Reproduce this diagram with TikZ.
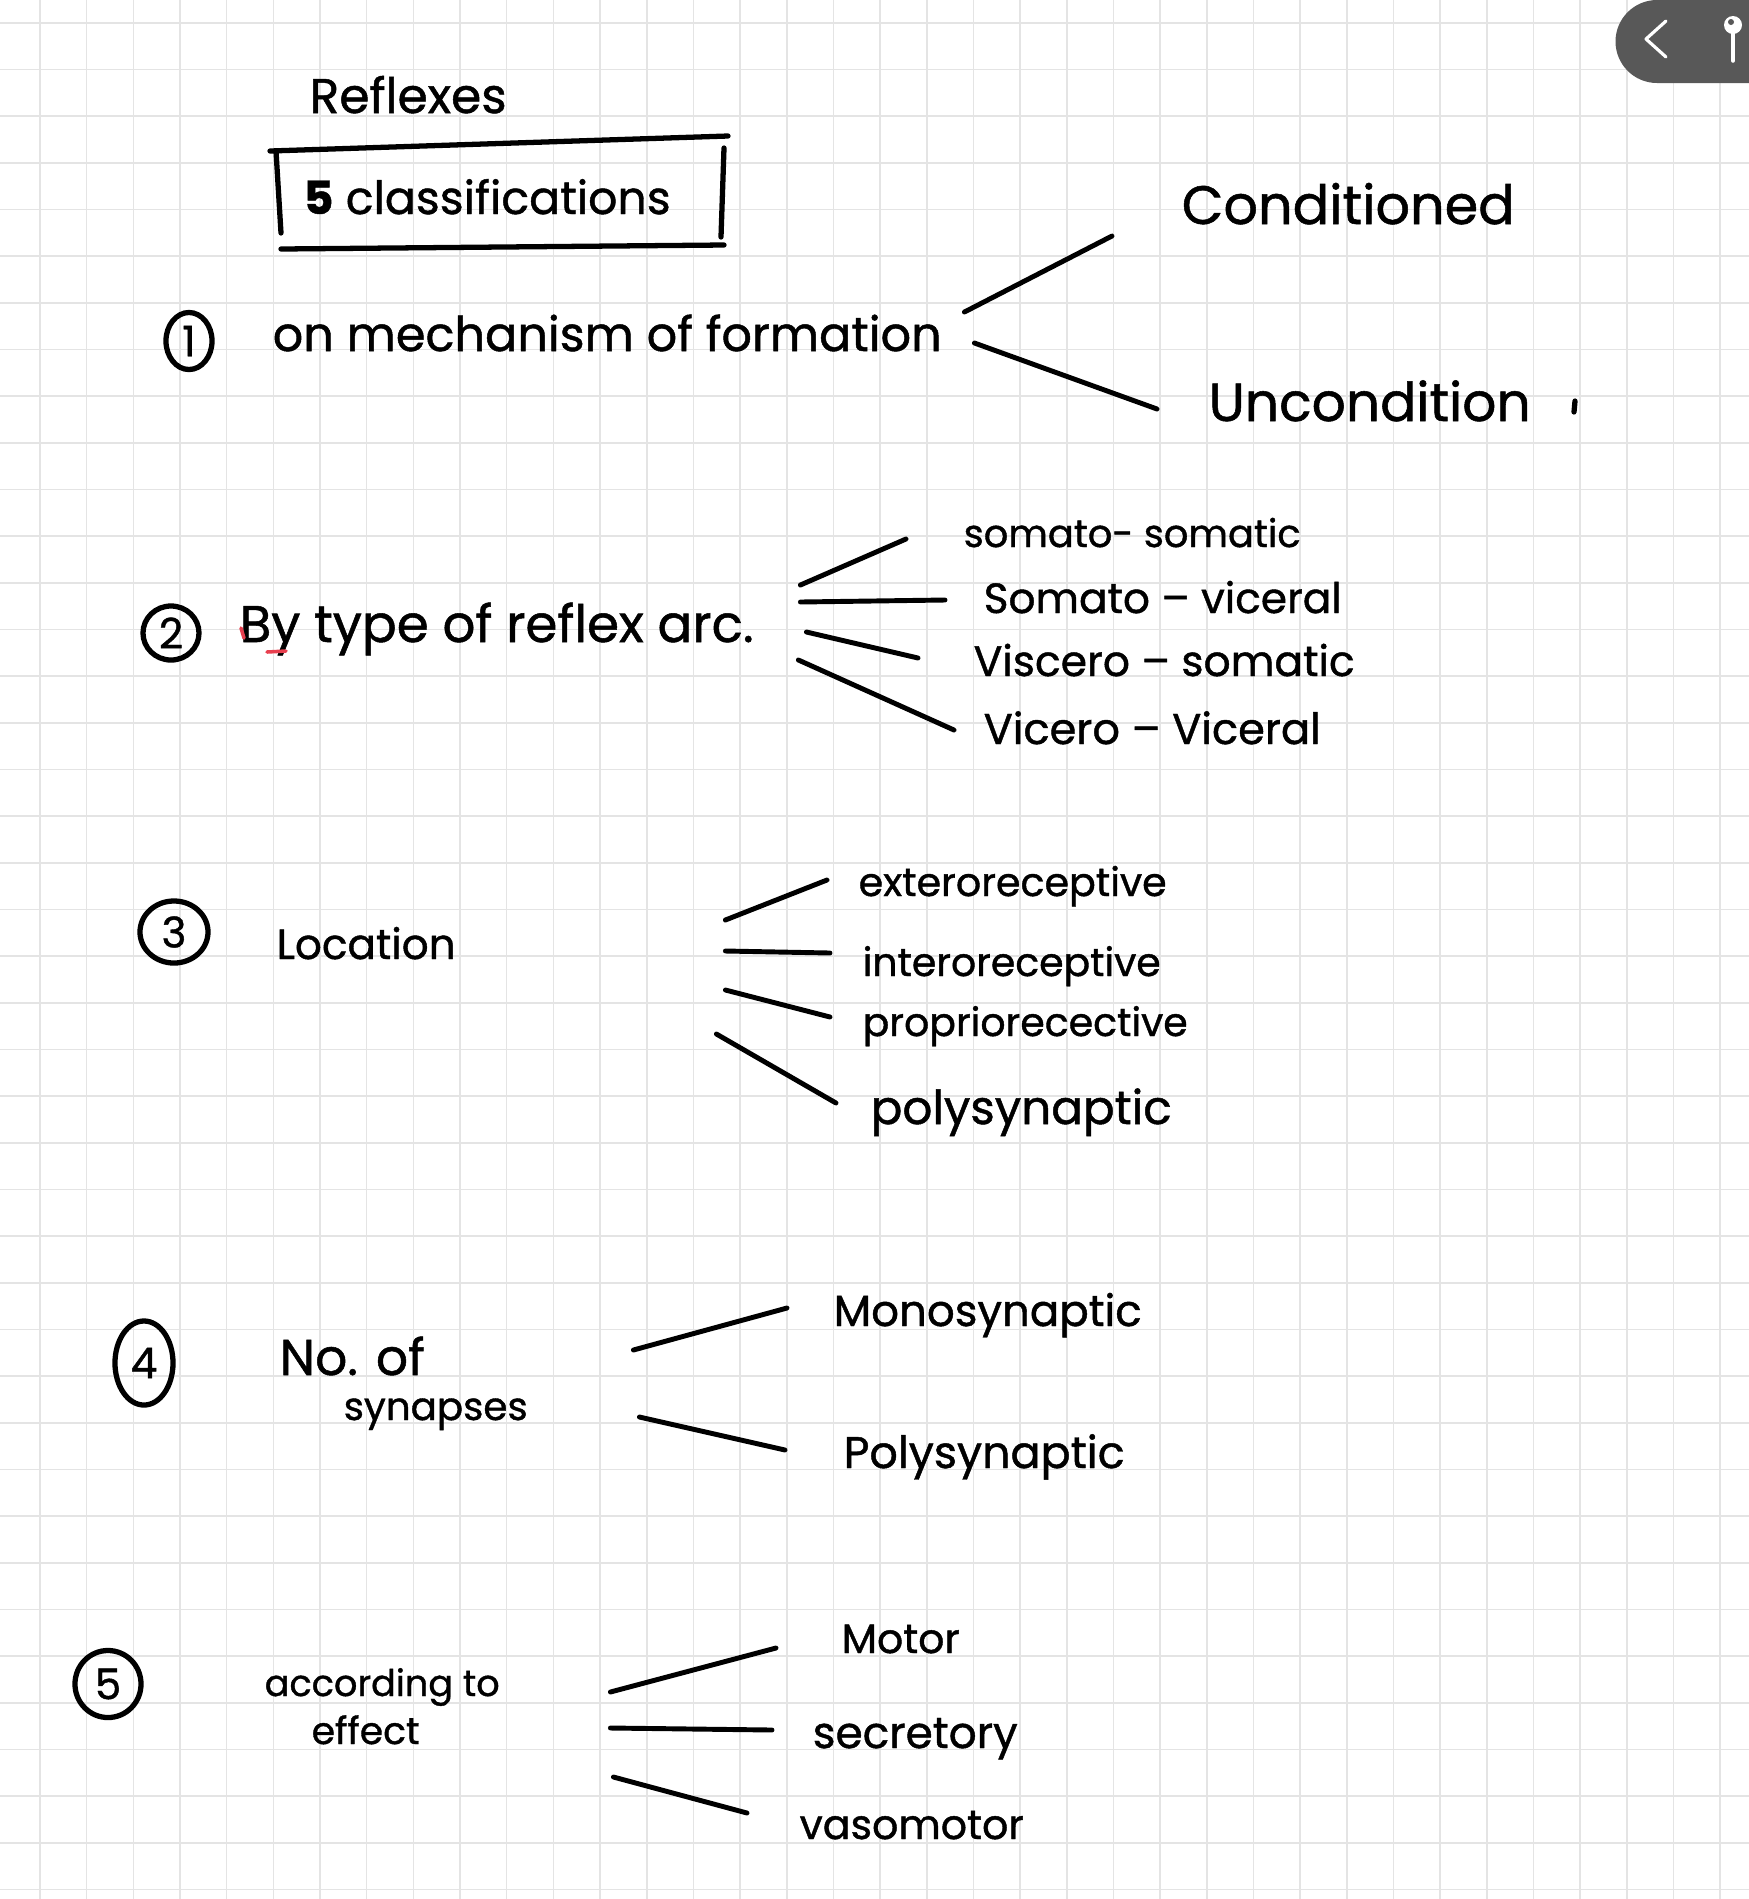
\documentclass[tikz,border=0pt]{standalone}
\usepackage{fontspec}
\setmainfont{Poppins}[FakeBold=1]
\usepackage{graphicx}
\usetikzlibrary{shapes.geometric,calc}
\definecolor{gridcol}{HTML}{E4E4E4}
\definecolor{pillcol}{HTML}{585858}
\definecolor{spellcol}{HTML}{E8404F}
\newlength{\pxu}\setlength{\pxu}{0.01cm}
\newcommand{\hw}[2]{\resizebox{#1\pxu}{!}{#2}}

\begin{document}
\begin{tikzpicture}[x=0.01cm,y=-0.01cm,
 every node/.style={inner sep=0pt},
 lbl/.style={anchor=base west},
 num/.style={draw,ellipse,line width=1.5pt,font=\fontsize{12}{14}\selectfont},
 ink/.style={line width=1.5pt,line cap=round},
 branch/.style={line width=1.4pt,line cap=round},
 paper/.style={draw=gridcol,line width=0.45pt}]
\useasboundingbox[fill=white] (0,0) rectangle (1749,1899);
\foreach \i in {0,...,36} \draw[paper] ({40+46.67*\i},0) -- ({40+46.67*\i},1899);
\foreach \j in {0,...,40} \draw[paper] (0,{22.7+46.67*\j}) -- (1749,{22.7+46.67*\j});
\fill[pillcol] (1749,0) -- (1657,0) arc[start angle=270,end angle=90,radius=41.5] -- (1749,83) -- cycle;
\draw[white,line width=0.9pt,line cap=round,line join=round] (1666,21) -- (1646,39) -- (1666,57);
\fill[white] (1733,25) circle[radius=9];
\fill[pillcol] (1731,22) circle[radius=3];
\draw[white,line width=1pt,line cap=round] (1733,30) -- (1733,61);

\node[lbl] (title) at (309,113) {\hw{197}{Reflexes}};
\node[lbl] (cls) at (303,214) {\hw{367}{\textbf{5} classifications}};
\draw[ink] (270,151) -- (728,136);
\draw[ink] (276,151) -- (281,233);
\draw[ink] (724,148) -- (721,237);
\draw[ink] (281,249) -- (724,245);

\node[num,minimum width=0.46cm,minimum height=0.57cm] (n1) at (189,341) {1};
\node[lbl] (form) at (272,351) {\hw{669}{on mechanism of formation}};
\node[lbl] (cond) at (1181,224) {\hw{333}{Conditioned}};
\node[lbl] (uncond) at (1208,421) {\hw{322}{Uncondition}};
\draw[branch] ($(form.base east)+(22,-39)$) -- ($(cond.base west)+(-69,12)$);
\draw[branch] ($(form.base east)+(32,-8)$) -- ($(uncond.base west)+(-51,-12)$);
\draw[ink] (1575,401) -- (1574,412);

\node[num,minimum width=0.56cm,minimum height=0.54cm] (n2) at (171,633) {2};
\node[lbl] (arc) at (239,642) {\hw{514}{By type of reflex arc.}};
\draw[spellcol,line width=1pt,line cap=round] (267,652) -- (286,651);
\draw[spellcol,line width=1pt,line cap=round] (241,628) -- (244,638);
\node[lbl] (ss) at (963,547) {\hw{337}{somato- somatic}};
\node[lbl] (sv) at (983,613) {\hw{358}{Somato – viceral}};
\node[lbl] (vs) at (973,676) {\hw{381}{Viscero – somatic}};
\node[lbl] (vv) at (983,744) {\hw{337}{Vicero – Viceral}};
\draw[branch] ($(arc.base east)+(46,-57)$) -- ($(ss.base west)+(-57,-8)$);
\draw[branch] ($(arc.base east)+(46,-40)$) -- ($(sv.base west)+(-38,-13)$);
\draw[branch] ($(arc.base east)+(52,-10)$) -- ($(vs.base west)+(-55,-18)$);
\draw[branch] ($(arc.base east)+(44,18)$) -- ($(vv.base west)+(-29,-14)$);

\node[num,minimum width=0.68cm,minimum height=0.62cm] (n3) at (174,932) {3};
\node[lbl] (loc) at (276,959) {\hw{179}{Location}};
\node[lbl] (ext) at (858,896) {\hw{308}{exteroreceptive}};
\node[lbl] (int) at (862,976) {\hw{298}{interoreceptive}};
\node[lbl] (prop) at (862,1036) {\hw{325}{propriorecective}};
\node[lbl] (poly) at (870,1124) {\hw{301}{polysynaptic}};
\draw[branch] ($(loc.base east)+(269,-39)$) -- ($(ext.base west)+(-31,-16)$);
\draw[branch] ($(loc.base east)+(269,-8)$) -- ($(int.base west)+(-32,-23)$);
\draw[branch] ($(loc.base east)+(269,31)$) -- ($(prop.base west)+(-32,-19)$);
\draw[branch] ($(loc.base east)+(260,75)$) -- ($(poly.base west)+(-34,-21)$);

\node[num,minimum width=0.58cm,minimum height=0.84cm] (n4) at (144,1363) {4};
\node[lbl] (syn1) at (279,1375) {\hw{145}{No. of}};
\node[lbl] (syn2) at (343,1420) {\hw{184}{synapses}};
\node[lbl] (mono) at (833,1326) {\hw{308}{Monosynaptic}};
\node[lbl] (polyb) at (843,1468) {\hw{281}{Polysynaptic}};
\draw[branch] ($(syn2.base east)+(105,-70)$) -- ($(mono.base west)+(-46,-18)$);
\draw[branch] ($(syn2.base east)+(111,-3)$) -- ($(polyb.base west)+(-58,-18)$);

\node[num,minimum width=0.66cm,minimum height=0.67cm] (n5) at (108,1684) {5};
\node[lbl] (eff1) at (264,1696) {\hw{235}{according to}};
\node[lbl] (eff2) at (311,1744) {\hw{108}{effect}};
\node[lbl] (motor) at (841,1653) {\hw{118}{Motor}};
\node[lbl] (secr) at (812,1748) {\hw{205}{secretory}};
\node[lbl] (vaso) at (799,1839) {\hw{224}{vasomotor}};
\draw[branch] ($(eff1.base east)+(110,-4)$) -- ($(motor.base west)+(-65,-5)$);
\draw[branch] ($(eff1.base east)+(110,32)$) -- ($(secr.base west)+(-40,-18)$);
\draw[branch] ($(eff1.base east)+(113,81)$) -- ($(vaso.base west)+(-52,-26)$);
\end{tikzpicture}
\end{document}
